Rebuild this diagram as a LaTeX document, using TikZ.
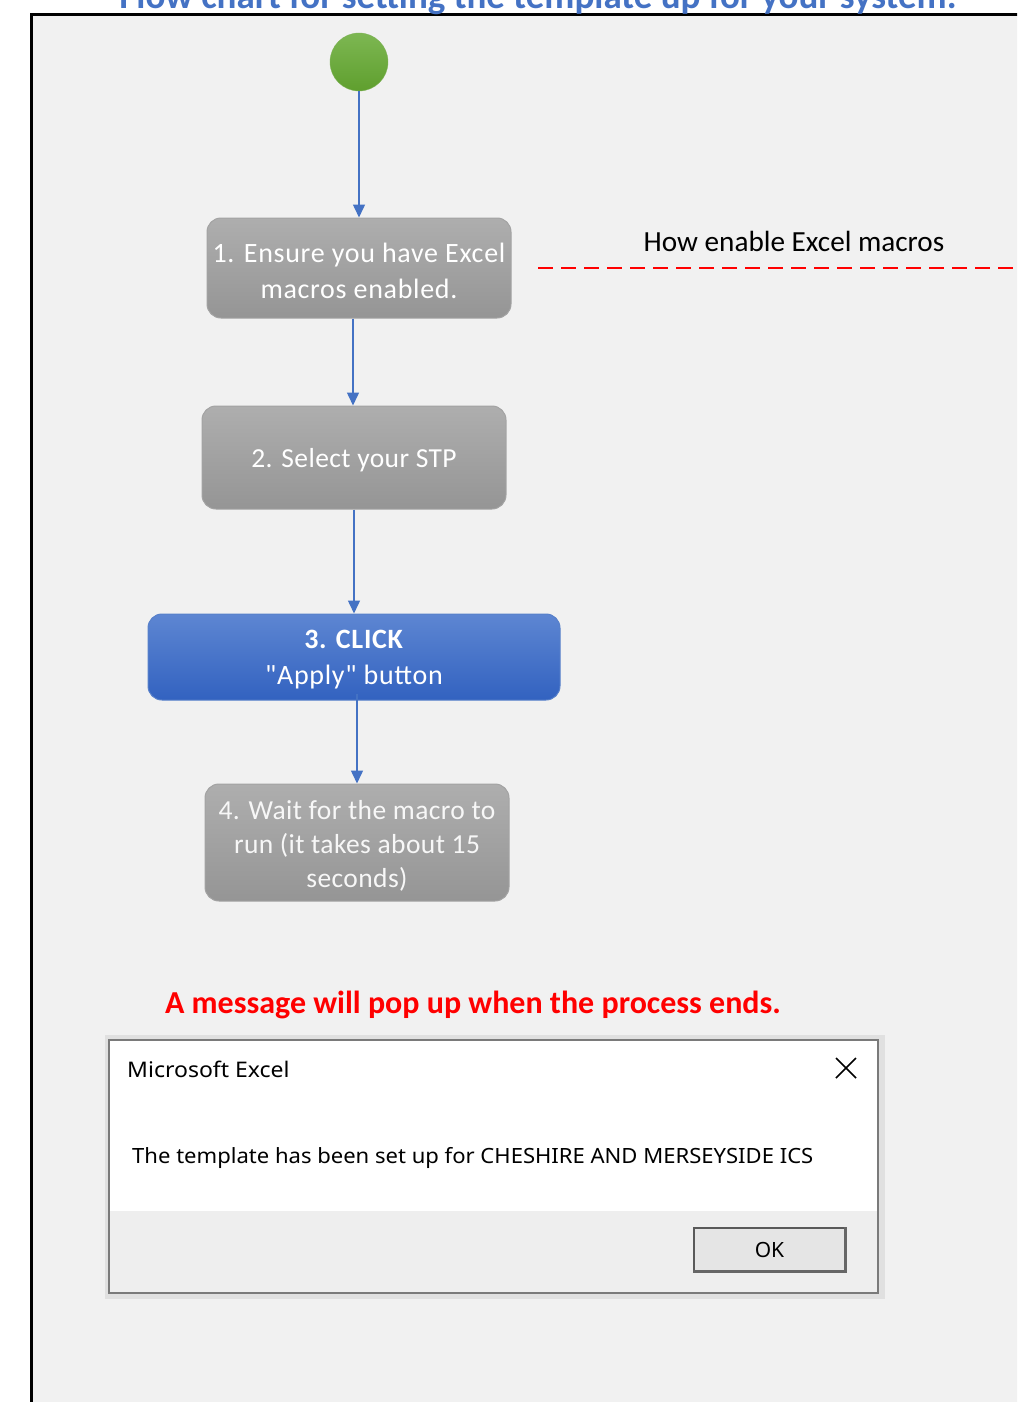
\documentclass[tikz,border=0pt]{standalone}
\usepackage{fontspec}
\setmainfont{Carlito}
\newfontfamily\dlgfont{Noto Sans}
\newfontfamily\boxfont[LetterSpace=2.5]{Carlito}
\newfontfamily\boxfontb[LetterSpace=1.5]{Carlito}
\usetikzlibrary{arrows.meta}
\definecolor{bgray}{HTML}{F1F1F1}
\definecolor{flowblue}{HTML}{4472C4}
\definecolor{boxtop}{HTML}{AEAEAE}
\definecolor{boxbot}{HTML}{959595}
\definecolor{boxedge}{HTML}{A3A3A3}
\definecolor{bluetop}{HTML}{5D86D2}
\definecolor{bluebot}{HTML}{3262C0}
\definecolor{greentop}{HTML}{7DB752}
\definecolor{greenbot}{HTML}{5F9F2E}
\definecolor{dlgedge}{HTML}{7A7A7A}
\definecolor{dlgfoot}{HTML}{EEEEEE}
\tikzset{
  stepbox/.style={rounded corners=14pt, draw=boxedge, line width=1pt,
    top color=boxtop, bottom color=boxbot, text=white,
    minimum width=304pt, align=center, inner sep=0pt},
  clickbox/.style={stepbox, draw=flowblue!90, top color=bluetop, bottom color=bluebot},
  flowarrow/.style={draw=flowblue, line width=1.5pt, -{Triangle[length=13pt,width=12pt]}},
  boxtext/.style={align=center, text=white, inner sep=0pt, font=\boxfont\fontsize{28}{36}\selectfont},
}
\begin{document}
\begin{tikzpicture}[x=1pt,y=-1pt]
\useasboundingbox (0,0) rectangle (1017,1402);
\clip (0,0) rectangle (1017,1402);
\fill[white] (0,0) rectangle (1017,1402);
\fill[bgray] (31,15) rectangle (1030,1410);
\draw[line width=3pt] (31,1410) -- (31,15) -- (1030,15);
\node[anchor=base, text=flowblue, font=\bfseries\fontsize{37}{40}\selectfont] (title) at (538,9) {Flow chart for setting the template up for your system.};

\node[circle, minimum size=58pt, inner sep=0pt, top color=greentop, bottom color=greenbot, draw=greenbot!80] (start) at (359,62) {};

\node[stepbox, minimum height=100pt] (s1) at (359,268) {};
\node[boxtext] (t1) at ([yshift=-3pt]s1.center) {1. Ensure you have Excel\\macros enabled.};
\node[stepbox, minimum height=103pt] (s2) at (354,457.5) {};
\node[boxtext, font=\boxfontb\fontsize{27.5}{36}\selectfont] (t2) at ([yshift=-3pt]s2.center) {2. Select your STP};
\node[clickbox, minimum width=412pt, minimum height=86pt] (s3) at (354,657) {};
\node[boxtext] (t3) at ([yshift=-3pt]s3.center) {\textbf{3. CLICK}\\\char"22 Apply\char"22\ button};
\node[stepbox, minimum height=117pt] (s4) at (357,842.5) {};
\node[boxtext, font=\boxfontb\fontsize{27.5}{34}\selectfont, text=white!97!black] (t4) at ([yshift=-3pt]s4.center) {4. Wait for the macro to\\run (it takes about 15\\seconds)};

\draw[flowarrow] (start.south) -- (s1.north);
\draw[flowarrow] (s1.south -| 353,0) -- (s2.north -| 353,0);
\draw[flowarrow] (s2.south) -- (s3.north);
\draw[flowarrow] ([yshift=7pt]s3.south -| s4.north) -- (s4.north);

\node[font=\fontsize{29.2}{32}\selectfont] (link) at (794,241) {How enable Excel macros};
\coordinate (linkA) at (538,268);
\coordinate (linkB) at (1030,268);
\draw[red, line width=2.5pt, dash pattern=on 15pt off 8pt] (linkA) -- (linkB);

\node[text=red, font=\bfseries\fontsize{32}{36}\selectfont] (msg) at (473,1005) {A message will pop up when the process ends.};

% dialog
\fill[black!12] (105,1035) rectangle (885,1299);
\fill[white] (109,1040) rectangle (878,1211);
\fill[dlgfoot] (109,1211) rectangle (878,1293);
\draw[dlgedge, line width=1.5pt] (109,1040) rectangle (878,1293);
\node[anchor=base west, font=\dlgfont\fontsize{21.5}{24}\selectfont, inner sep=0pt] (dtitle) at (127,1077) {\scalebox{1.07}[1]{Microsoft Excel}};
\draw[line width=1.6pt] (836,1058) -- (856,1078) (856,1058) -- (836,1078);
\node[anchor=base west, font=\dlgfont\fontsize{21}{24}\selectfont, inner sep=0pt] (dmsg) at (132,1163) {\scalebox{1.05}[1]{The template has been set up for CHESHIRE AND MERSEYSIDE ICS}};
\node[draw=black!65, fill=black!10, line width=1.2pt, minimum width=151pt, minimum height=43pt, inner sep=0pt, font=\dlgfont\fontsize{21}{24}\selectfont] (ok) at (769.5,1249.5) {OK};
\draw[black!60, line width=2.5pt] (ok.south west) -- (ok.south east) -- (ok.north east);
\end{tikzpicture}
\end{document}
